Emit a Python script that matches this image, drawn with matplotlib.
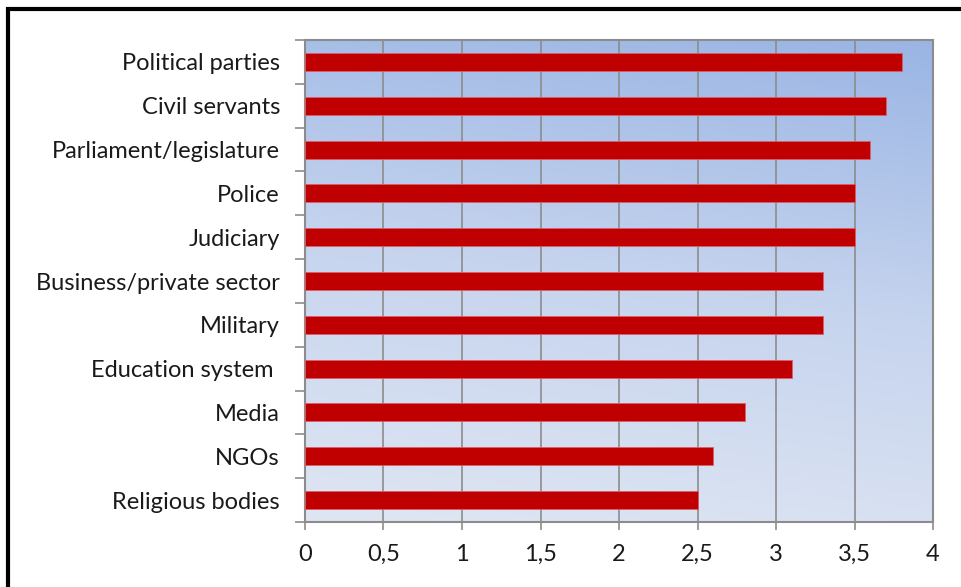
import numpy as np
import matplotlib.pyplot as plt
from matplotlib.patches import Rectangle
from matplotlib.colors import LinearSegmentedColormap

# datos
categorias = ["Political parties", "Civil servants", "Parliament/legislature", "Police",
              "Judiciary", "Business/private sector", "Military", "Education system ",
              "Media", "NGOs", "Religious bodies"]
valores = [3.8, 3.7, 3.6, 3.5, 3.5, 3.3, 3.3, 3.1, 2.8, 2.6, 2.5]
ticks_x = [0, 0.5, 1, 1.5, 2, 2.5, 3, 3.5, 4]
etiquetas_x = ["0", "0,5", "1", "1,5", "2", "2,5", "3", "3,5", "4"]

plt.rcParams['font.family'] = ['Lato', 'DejaVu Sans']

W, H = 962, 587
fig = plt.figure(figsize=(W / 100, H / 100), dpi=100)
ax = fig.add_axes([305 / W, 1 - 522 / H, (933 - 305) / W, (522 - 40) / H])

n = len(categorias)
y = np.arange(n)[::-1]

# fondo degradado
fondo = LinearSegmentedColormap.from_list("fondo", ["#dfe6f3", "#c6d4ee", "#9ab5e4"])
grad = np.linspace(0, 1, 256)[:, None] * 0.85 + np.linspace(0, 1, 64)[None, :] * 0.15
ax.imshow(grad, cmap=fondo, extent=[0, 4, -0.5, n - 0.5], origin="lower",
          aspect="auto", zorder=0, interpolation="bicubic")

ax.barh(y, valores, height=0.41, color="#c00000", edgecolor="#d9606a", linewidth=0.6, zorder=3)

ax.set_xlim(0, 4)
ax.set_ylim(-0.5, n - 0.5)
ax.set_xticks(ticks_x)
ax.set_xticklabels(etiquetas_x, fontsize=17, color="#1a1a1a")
ax.set_yticks(y)
ax.set_yticklabels(categorias, fontsize=17, color="#1a1a1a")
ax.set_yticks(np.arange(n + 1) - 0.5, minor=True)

ax.grid(axis="x", color="#8c8c8c", linewidth=1.2, zorder=1)
ax.tick_params(axis="y", which="major", length=0, pad=18)
ax.tick_params(axis="y", which="minor", length=7, color="#8c8c8c", width=1.2)
ax.tick_params(axis="x", length=6, color="#8c8c8c", width=1.2, pad=10)
for lado in ["left", "bottom", "right", "top"]:
    ax.spines[lado].set_color("#8c8c8c")
    ax.spines[lado].set_linewidth(1.5)

# marco exterior
fig.patches.append(Rectangle((8 / W, -0.05), 1.1, 1 - 9 / H + 0.05, transform=fig.transFigure,
                             fill=False, edgecolor="black", linewidth=3, zorder=10))

fig.savefig("out.png", dpi=100)
